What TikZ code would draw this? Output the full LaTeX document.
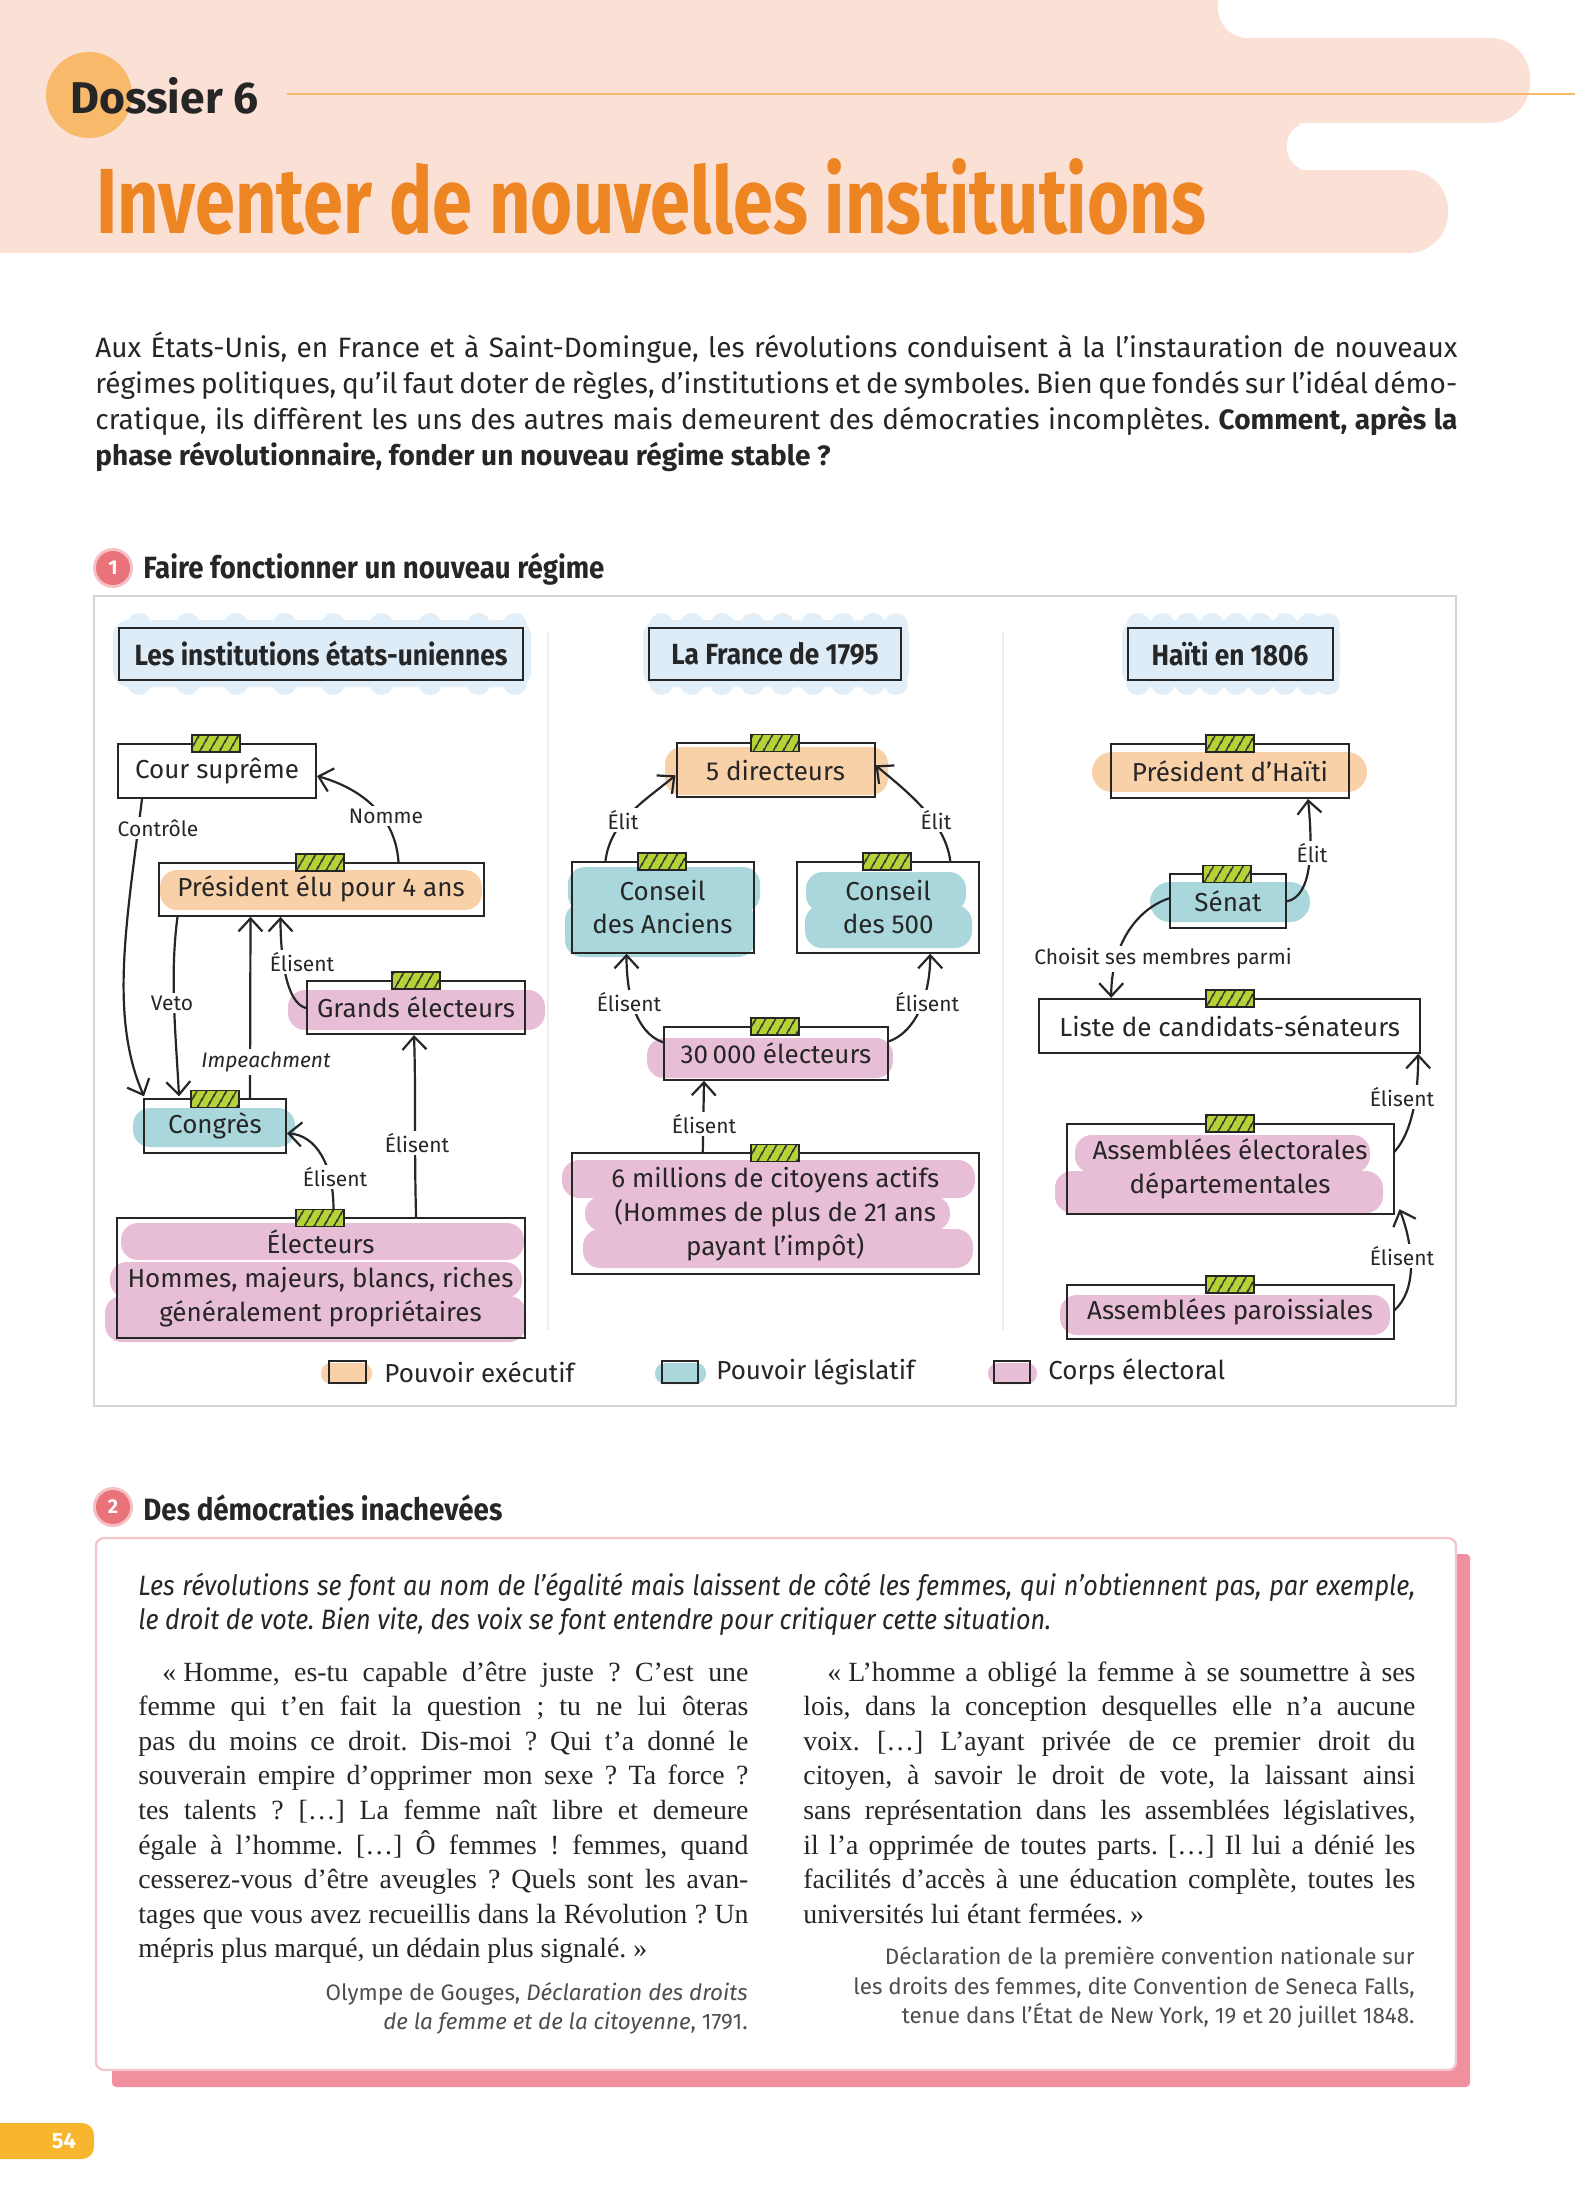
\documentclass[tikz,border=0pt]{standalone}
\usepackage{graphicx}
\usepackage{fontspec}
\setmainfont{Liberation Serif}
\newfontfamily\fira{Fira Sans}
\newfontfamily\firac[FakeStretch=0.9]{Fira Sans}
\newfontfamily\firat[FakeStretch=0.78]{Fira Sans}
\usetikzlibrary{arrows.meta,patterns.meta,calc}
\newlength\px
\setlength\px{0.5pt}
\frenchspacing
\definecolor{ink}{HTML}{262626}
\definecolor{headpink}{HTML}{FBE0D6}
\definecolor{titleor}{HTML}{EE8523}
\definecolor{dossor}{HTML}{F8B96A}
\definecolor{secred}{HTML}{E9727B}
\definecolor{execc}{HTML}{F9D1A8}
\definecolor{legis}{HTML}{A9D7DB}
\definecolor{elect}{HTML}{E8BED6}
\definecolor{tbox}{HTML}{DDECF7}
\definecolor{tcloud}{HTML}{E2EEF8}
\definecolor{tabg}{HTML}{B6D336}
\definecolor{framec}{HTML}{D4D4D4}
\definecolor{sepc}{HTML}{EDEDED}
\definecolor{boxline}{HTML}{F2C6CB}
\definecolor{shadowc}{HTML}{F0909E}
\definecolor{pagenum}{HTML}{F8B62E}
\definecolor{srcgray}{HTML}{4E4E4E}

\newcommand\tabmark[2]{%
  \fill[tabg] ({#1-24},{#2-9}) rectangle ({#1+24},{#2+8});
  \fill[pattern={Lines[angle=60,distance=4pt,line width=0.9pt]},pattern color=ink] ({#1-24},{#2-9}) rectangle ({#1+24},{#2+8});
  \draw[ink,line width=0.8pt] ({#1-24},{#2-9}) rectangle ({#1+24},{#2+8});}
\newcommand\hblob[5]{\fill[#1,rounded corners=17\px] (#2,#3) rectangle (#4,#5);}
\newcommand\titlecloud[4]{%
  \fill[tcloud,rounded corners=16\px] ({#1-6},{#2-8}) rectangle ({#3+8},{#4+8});
  \foreach \t in {0.05,0.17,0.29,0.41,0.53,0.65,0.77,0.89,0.98}{
    \fill[tcloud] ($({#1},{#2-3})!\t!({#3},{#2-3})$) circle (12\px);
    \fill[tcloud] ($({#1},{#4+4})!\t!({#3},{#4+4})$) circle (12\px);}}
\newcommand\qline[5]{\node[anchor=base west,inner sep=0pt,text=ink,font=\fontsize{13.9}{16}\selectfont] (#1) at (#2,#3) {\makebox[#4\px][s]{#5}};}
\newcommand\iline[5]{\node[anchor=base west,inner sep=0pt,text=ink,font=#4] (#1) at (#2,#3) {#5};}

\begin{document}
\begin{tikzpicture}[x=0.5pt,y=-0.5pt,
  box/.style={draw=ink,line width=1pt,inner sep=0pt,align=center,text=ink,font=\fira\fontsize{13}{17}\selectfont},
  tbx/.style={draw=ink,line width=1pt,fill=tbox,inner sep=0pt,text=ink,font=\firac\bfseries\fontsize{14.6}{16}\selectfont},
  lbl/.style={fill=white,inner sep=1.2pt,text=ink,font=\fira\fontsize{10.5}{12}\selectfont},
  conn/.style={draw=ink,line width=1.1pt,line cap=round,-{Straight Barb[length=6.5pt,width=12pt]}},
  leg/.style={anchor=west,inner sep=0pt,text=ink,font=\fira\fontsize{13}{15}\selectfont},
]
\fill[white] (0,0) rectangle (1575,2205);
\useasboundingbox (0,0) rectangle (1575,2205);

% ---------- header ----------
\fill[headpink] (0,0) rectangle (1300,253);
\fill[headpink,rounded corners=40\px] (-60,38) rectangle (1530,123);
\fill[headpink,rounded corners=40\px] (-60,170) rectangle (1448,253);
\fill[white,rounded corners=30\px] (1218,-60) rectangle (1700,38);
\fill[white,rounded corners=22\px] (1287,123) rectangle (1700,170);
\fill[dossor] (89,95) circle (43\px);
\draw[dossor,line width=1.2pt] (287,94) -- (1575,94);
\node[anchor=west,inner sep=0pt,text=ink] (doss) at (70,96) {\resizebox{188\px}{!}{\fira\bfseries Dossier 6}};
\node[anchor=west,inner sep=0pt,text=titleor] (title) at (96,197) {\resizebox{1109\px}{!}{\firat\bfseries Inventer de nouvelles institutions}};

% ---------- intro ----------
\node[anchor=base west,inner sep=0pt,text=ink,font=\fira\fontsize{14}{18}\selectfont] (in1) at (95,357) {\makebox[1362\px][s]{Aux États-Unis, en France et à Saint-Domingue, les révolutions conduisent à la l’instauration de nouveaux}};
\node[anchor=base west,inner sep=0pt,text=ink,font=\fira\fontsize{14}{18}\selectfont] (in2) at (95,393) {\makebox[1362\px][s]{régimes politiques, qu’il faut doter de règles, d’institutions et de symboles. Bien que fondés sur l’idéal démo-}};
\node[anchor=base west,inner sep=0pt,text=ink,font=\fira\fontsize{14}{18}\selectfont] (in3) at (95,429) {\makebox[1362\px][s]{cratique, ils diffèrent les uns des autres mais demeurent des démocraties incomplètes. \bfseries Comment, après la}};
\node[anchor=base west,inner sep=0pt,text=ink,font=\fira\bfseries\fontsize{14}{18}\selectfont] (in4) at (95,465) {phase révolutionnaire, fonder un nouveau régime stable ?};

% ---------- section 1 header ----------
\fill[secred!45] (113,568) circle (20\px);
\fill[secred] (113,568) circle (17\px);
\node[text=white,font=\fira\bfseries\fontsize{10}{12}\selectfont] (n1) at (113,568) {1};
\node[anchor=west,inner sep=0pt,text=ink] (h1) at (143,569) {\resizebox{461\px}{!}{\firac\bfseries Faire fonctionner un nouveau régime}};

% frame
\draw[framec,line width=1pt] (94,596) rectangle (1456,1406);
\draw[sepc,line width=1pt] (548,632) -- (548,1330);
\draw[sepc,line width=1pt] (1003,632) -- (1003,1330);

% ---------- title boxes ----------
\titlecloud{119}{628}{523}{679}
\titlecloud{649}{628}{901}{679}
\titlecloud{1128}{628}{1332}{679}
\node[tbx,minimum width=404\px,minimum height=52\px] (t1) at (321,653.5) {Les institutions états-uniennes};
\node[tbx,minimum width=252\px,minimum height=52\px] (t2) at (775,653.5) {La France de 1795};
\node[tbx,minimum width=205\px,minimum height=52\px] (t3) at (1230,653.5) {Haïti en 1806};

% ---------- blobs ----------
\hblob{execc}{160}{870}{482}{910}
\hblob{elect}{288}{990}{545}{1030}
\hblob{legis}{133}{1108}{295}{1147}
\hblob{elect}{121}{1223}{524}{1260}
\hblob{elect}{110}{1262}{522}{1298}
\hblob{elect}{105}{1296}{526}{1342}
\hblob{execc}{665}{747}{888}{795}
\hblob{legis}{568}{867}{760}{912}
\hblob{legis}{565}{903}{755}{957}
\hblob{legis}{806}{872}{966}{912}
\hblob{legis}{805}{905}{972}{948}
\hblob{elect}{647}{1038}{893}{1078}
\hblob{elect}{562}{1160}{975}{1198}
\hblob{elect}{585}{1196}{950}{1231}
\hblob{elect}{583}{1229}{973}{1268}
\fill[execc,rounded corners=20\px] (1092,752) rectangle (1367,792);
\fill[legis,rounded corners=20\px] (1150,882) rectangle (1310,922);
\hblob{elect}{1075}{1135}{1370}{1173}
\hblob{elect}{1055}{1171}{1383}{1213}
\hblob{elect}{1060}{1295}{1390}{1335}

% ---------- boxes ----------
\node[box,minimum width=198\px,minimum height=54\px] (cour) at (217,771) {Cour suprême};
\node[box,minimum width=325\px,minimum height=53\px] (pres) at (321,889.3) {Président élu pour 4 ans};
\node[box,minimum width=218\px,minimum height=53\px] (grands) at (416,1007.5) {Grands électeurs};
\node[box,minimum width=142\px,minimum height=54\px] (congres) at (215,1126.3) {Congrès};
\node[box,minimum width=408\px,minimum height=120\px] (electeurs) at (320.5,1278.3) {Électeurs\\Hommes, majeurs, blancs, riches\\généralement propriétaires};

\node[box,minimum width=198\px,minimum height=54\px] (dir5) at (775.5,770.3) {5 directeurs};
\node[box,minimum width=182\px,minimum height=91\px,font=\fira\fontsize{13}{16.6}\selectfont] (anciens) at (662.5,907.2) {Conseil\\des Anciens};
\node[box,minimum width=182\px,minimum height=91\px,font=\fira\fontsize{13}{16.6}\selectfont] (c500) at (888.2,907.2) {Conseil\\des 500};
\node[box,minimum width=224\px,minimum height=53\px] (e30k) at (776,1053.3) {30\,000 électeurs};
\node[box,minimum width=407\px,minimum height=121\px] (six) at (775.3,1213.7) {6 millions de citoyens actifs\\(Hommes de plus de 21 ans\\payant l’impôt)};

\node[box,minimum width=238\px,minimum height=54\px] (ph) at (1230,771) {Président d’Haïti};
\node[box,minimum width=116\px,minimum height=54\px] (senat) at (1228,901.3) {Sénat};
\node[box,minimum width=381\px,minimum height=54\px] (liste) at (1229.7,1025.8) {Liste de candidats-sénateurs};
\node[box,minimum width=327\px,minimum height=90\px] (ae) at (1230,1169.2) {Assemblées électorales\\départementales};
\node[box,minimum width=327\px,minimum height=54\px] (ap) at (1230,1312.2) {Assemblées paroissiales};

% ---------- tabs ----------
\tabmark{216}{744}
\tabmark{320}{862.7}
\tabmark{416}{981}
\tabmark{215}{1099.3}
\tabmark{320}{1218.3}
\tabmark{775}{743.3}
\tabmark{662}{861.7}
\tabmark{887}{861.7}
\tabmark{775}{1026.7}
\tabmark{775}{1153.3}
\tabmark{1230}{744}
\tabmark{1227}{874.3}
\tabmark{1230}{999}
\tabmark{1230}{1124.2}
\tabmark{1230}{1285.2}

% ---------- connectors: USA ----------
\draw[conn] ([xshift=-86\px]pres.north east) .. controls +(-4,-55) and +(32,9) .. ([yshift=-5\px]cour.east);
\draw[conn] ([xshift=25\px]cour.south west) .. controls +(-15,120) and +(-35,-80) .. ([xshift=1\px,yshift=2\px]congres.north west);
\draw[conn] ([xshift=20\px]pres.south west) .. controls +(-8,60) and +(-3,-60) .. ([xshift=36\px,yshift=2\px]congres.north west);
\draw[conn] ([xshift=107\px]congres.north west) -- ([xshift=93\px]pres.south west);
\draw[conn] ([yshift=-0.5\px]grands.west) .. controls +(-20,-5) and +(0,40) .. ([xshift=123\px]pres.south west);
\draw[conn] ([xshift=300.6\px]electeurs.north west) .. controls +(-2,-70) and +(2,60) .. ([xshift=-2\px]grands.south);
\draw[conn] ([xshift=218\px,yshift=8\px]electeurs.north west) .. controls +(0,-45) and +(29,2) .. ([yshift=-7\px]congres.east);

% ---------- connectors: France ----------
\draw[conn] ([xshift=35\px]anciens.north west) .. controls +(5,-40) and +(-30,25) .. ([yshift=-5\px]dir5.west);
\draw[conn] ([xshift=-30\px]c500.north east) .. controls +(-5,-40) and +(30,25) .. ([yshift=5\px]dir5.east);
\draw[conn] ([yshift=11\px]e30k.west) .. controls +(-28,-10) and +(0,40) .. ([xshift=-36\px]anciens.south);
\draw[conn] ([yshift=12\px]e30k.east) .. controls +(28,-10) and +(0,40) .. ([xshift=42\px]c500.south);
\draw[conn] ([xshift=132\px]six.north west) -- ([xshift=-72\px]e30k.south);

% ---------- connectors: Haiti ----------
\draw[conn] (senat.east) .. controls +(25,-5) and +(5,50) .. ([xshift=-42\px]ph.south east);
\draw[conn] ([yshift=3\px]senat.west) .. controls +(-35,12) and +(0,-50) .. ([xshift=73\px]liste.north west);
\draw[conn] ([yshift=17.5\px]ae.east) .. controls +(18,-20) and +(0,40) .. ([xshift=-3\px]liste.south east);
\draw[conn] ([yshift=2\px]ap.east) .. controls +(22,-20) and +(15,40) .. ([xshift=5\px,yshift=6\px]ae.south east);

% ---------- labels ----------
\node[lbl] (lnomme) at (386,816) {Nomme};
\node[lbl] (lcontrole) at (158,828) {Contrôle};
\node[lbl] (lveto) at (172,1003) {Veto};
\node[lbl,font=\fira\itshape\fontsize{10.5}{12}\selectfont] (limp) at (266,1062) {Impeachment};
\node[lbl] (le1) at (302,962) {Élisent};
\node[lbl] (le2) at (417,1143) {Élisent};
\node[lbl] (le3) at (335,1177) {Élisent};
\node[lbl] (lel1) at (623,820) {Élit};
\node[lbl] (lel2) at (936,820) {Élit};
\node[lbl] (le4) at (629,1002) {Élisent};
\node[lbl] (le5) at (927,1002) {Élisent};
\node[lbl] (le6) at (704,1124) {Élisent};
\node[lbl] (lel3) at (1312,853) {Élit};
\node[lbl] (lchoisit) at (1163,959) {Choisit ses membres parmi};
\node[lbl] (le7) at (1402,1097) {Élisent};
\node[lbl] (le8) at (1402,1256) {Élisent};

% ---------- legend ----------
\fill[execc,rounded corners=10\px] (321,1363) rectangle (372,1384);
\draw[ink,line width=1pt] (329,1361) rectangle (366,1383);
\node[leg] (leg1) at (384,1372) {Pouvoir exécutif};
\fill[legis,rounded corners=10\px] (655,1363) rectangle (706,1384);
\draw[ink,line width=1pt] (662,1361) rectangle (698,1383);
\node[leg] (leg2) at (716,1372) {Pouvoir législatif};
\fill[elect,rounded corners=10\px] (988,1363) rectangle (1037,1384);
\draw[ink,line width=1pt] (994,1361) rectangle (1030,1383);
\node[leg] (leg3) at (1048,1372) {Corps électoral};

% ---------- section 2 ----------
\fill[secred!45] (113,1507) circle (20\px);
\fill[secred] (113,1507) circle (17\px);
\node[text=white,font=\fira\bfseries\fontsize{10}{12}\selectfont] (n2) at (113,1507) {2};
\node[anchor=west,inner sep=0pt,text=ink] (h2) at (143,1508) {\resizebox{359\px}{!}{\firac\bfseries Des démocraties inachevées}};

\fill[shadowc,rounded corners=4\px] (112,1554) rectangle (1470,2087);
\fill[white,rounded corners=8\px] (96,1538) rectangle (1456,2070);
\draw[boxline,line width=1.2pt,rounded corners=8\px] (96,1538) rectangle (1456,2070);

\node[anchor=base west,inner sep=0pt,text=ink,font=\firac\itshape\fontsize{14}{17}\selectfont] (it1) at (138,1595) {\makebox[1277\px][s]{Les révolutions se font au nom de l’égalité mais laissent de côté les femmes, qui n’obtiennent pas, par exemple,}};
\node[anchor=base west,inner sep=0pt,text=ink,font=\firac\itshape\fontsize{14}{17}\selectfont] (it2) at (138,1629) {le droit de vote. Bien vite, des voix se font entendre pour critiquer cette situation.};

\qline{ql1}{138}{1681}{610}{\hspace*{24\px}«\hspace{0.25em}Homme, es-tu capable d’être juste ? C’est une}
\qline{ql2}{138}{1715.6}{610}{femme qui t’en fait la question ; tu ne lui ôteras}
\qline{ql3}{138}{1750.2}{610}{pas du moins ce droit. Dis-moi ? Qui t’a donné le}
\qline{ql4}{138}{1784.8}{610}{souverain empire d’opprimer mon sexe ? Ta force ?}
\qline{ql5}{138}{1819.4}{610}{tes talents ? […] La femme naît libre et demeure}
\qline{ql6}{138}{1854}{610}{égale à l’homme. […] Ô femmes ! femmes, quand}
\qline{ql7}{138}{1888.6}{610}{cesserez-vous d’être aveugles ? Quels sont les avan-}
\qline{ql8}{138}{1923.2}{610}{tages que vous avez recueillis dans la Révolution ? Un}
\iline{ql9}{138}{1957.8}{\fontsize{13.9}{16}\selectfont}{mépris plus marqué, un dédain plus signalé.\hspace{0.25em}»}

\qline{qr1}{803}{1681}{612}{\hspace*{24\px}«\hspace{0.25em}L’homme a obligé la femme à se soumettre à ses}
\qline{qr2}{803}{1715.6}{612}{lois, dans la conception desquelles elle n’a aucune}
\qline{qr3}{803}{1750.2}{612}{voix. […] L’ayant privée de ce premier droit du}
\qline{qr4}{803}{1784.8}{612}{citoyen, à savoir le droit de vote, la laissant ainsi}
\qline{qr5}{803}{1819.4}{612}{sans représentation dans les assemblées législatives,}
\qline{qr6}{803}{1854}{612}{il l’a opprimée de toutes parts. […] Il lui a dénié les}
\qline{qr7}{803}{1888.6}{612}{facilités d’accès à une éducation complète, toutes les}
\iline{qr8}{803}{1923.2}{\fontsize{13.9}{16}\selectfont}{universités lui étant fermées.\hspace{0.25em}»}

\node[anchor=base east,inner sep=0pt,text=srcgray,font=\fira\fontsize{11.2}{13}\selectfont] (s1) at (748,2000) {Olympe de Gouges, \textit{Déclaration des droits}};
\node[anchor=base east,inner sep=0pt,text=srcgray,font=\fira\fontsize{11.2}{13}\selectfont] (s2) at (748,2029) {\textit{de la femme et de la citoyenne}, 1791.};
\node[anchor=base east,inner sep=0pt,text=srcgray,font=\fira\fontsize{11.2}{13}\selectfont] (s3) at (1415,1964) {Déclaration de la première convention nationale sur};
\node[anchor=base east,inner sep=0pt,text=srcgray,font=\fira\fontsize{11.2}{13}\selectfont] (s4) at (1415,1994) {les droits des femmes, dite Convention de Seneca Falls,};
\node[anchor=base east,inner sep=0pt,text=srcgray,font=\fira\fontsize{11.2}{13}\selectfont] (s5) at (1415,2023) {tenue dans l’État de New York, 19 et 20 juillet 1848.};

% ---------- page number ----------
\fill[pagenum,rounded corners=12\px] (-30,2123) rectangle (94,2159);
\node[text=white,font=\fira\bfseries\fontsize{11}{13}\selectfont] (pn) at (64,2141) {54};
\end{tikzpicture}
\end{document}
